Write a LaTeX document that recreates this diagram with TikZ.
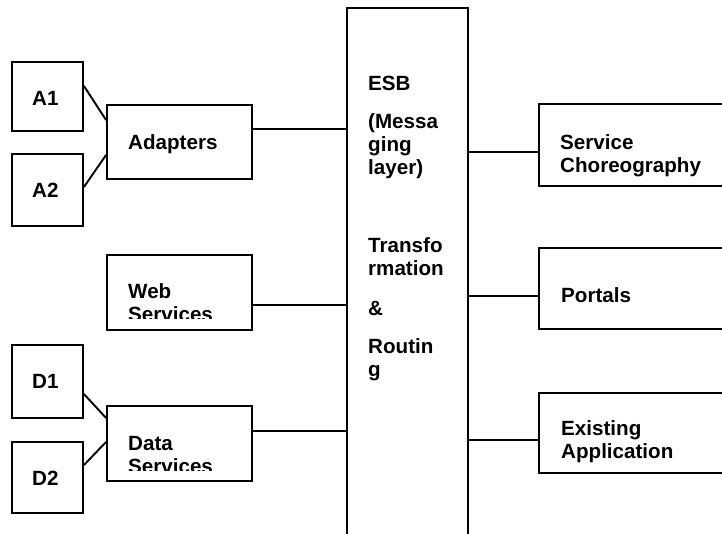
\documentclass[tikz,border=0pt]{standalone}
\usepackage{fontspec}
\setmainfont{Liberation Sans}
\tikzset{box/.style = {draw, line width=1.9pt, inner sep=0pt}}
\tikzset{lbl/.style = {anchor=base west, inner sep=0pt, align=left, font=\bfseries\fontsize{20.6}{23}\selectfont}}
\tikzset{link/.style = {line width=1.9pt}}

\begin{document}
\begin{tikzpicture}[x=1pt, y=-1pt]
    \useasboundingbox (0, 0) rectangle (722, 533);
    \clip (0, 0) rectangle (722, 533);

    % left column (multi-line labels sit on their last line)
    \node [box, minimum width=71, minimum height=69] (A1) at (47.5, 96.5) {};
    \node [box, minimum width=71, minimum height=72] (A2) at (47.5, 190) {};
    \node [box, minimum width=71, minimum height=73] (D1) at (47.5, 381.5) {};
    \node [box, minimum width=71, minimum height=71] (D2) at (47.5, 477.5) {};
    \node [lbl] (tA1) at (32, 105) {A1};
    \node [lbl] (tA2) at (32, 197) {A2};
    \node [lbl] (tD1) at (32, 388) {D1};
    \node [lbl] (tD2) at (32, 485) {D2};

    \node [box, minimum width=145, minimum height=74] (Adapters) at (179.5, 142) {};
    \node [box, minimum width=145, minimum height=75] (Web) at (179.5, 292.5) {};
    \node [box, minimum width=145, minimum height=75] (Data) at (179.5, 443.5) {};
    \node [lbl] (tAdapters) at (128, 149) {Adapters};
    \begin{scope}
      \clip (107, 255) rectangle (252, 318);
      \node [lbl] (tWeb) at (128, 321) {Web\\Services};
    \end{scope}
    \begin{scope}
      \clip (107, 406) rectangle (252, 470);
      \node [lbl] (tData) at (128, 473) {Data\\Services};
    \end{scope}

    % bus
    \node [box, minimum width=121, minimum height=537] (ESB) at (407.5, 276.5) {};
    \node [lbl] (tESB) at (368, 90) {ESB};
    \node [lbl] (tMsg) at (368, 174) {(Messa\\ging\\layer)};
    \node [lbl] (tTrans) at (368, 275) {Transfo\\rmation};
    \node [lbl] (tAmp) at (368, 315) {\&};
    \node [lbl] (tRout) at (368, 376) {Routin\\g};

    % right column
    \node [box, minimum width=196, minimum height=82] (SC) at (637, 145) {};
    \node [box, minimum width=196, minimum height=81] (Portals) at (637, 288.5) {};
    \node [box, minimum width=196, minimum height=80] (Existing) at (637, 433) {};
    \node [lbl] (tSC) at (560, 172) {Service\\Choreography};
    \node [lbl] (tPortals) at (561, 302) {Portals};
    \node [lbl] (tExisting) at (561, 458) {Existing\\Application};

    % links
    \draw [link] ([yshift=10.5]A1.east) -- ([yshift=22]Adapters.west);
    \draw [link] ([yshift=3]A2.east) -- ([yshift=-13]Adapters.west);
    \draw [link] ([yshift=-12.5]D1.east) -- ([yshift=25.5]Data.west);
    \draw [link] ([yshift=12.5]D2.east) -- ([yshift=1.5]Data.west);

    \draw [link] ([yshift=13]Adapters.east) coordinate (adp) -- (adp -| ESB.west);
    \draw [link] ([yshift=-12.5]Web.east) coordinate (web) -- (web -| ESB.west);
    \draw [link] ([yshift=12.5]Data.east) coordinate (dat) -- (dat -| ESB.west);

    \draw [link] ([yshift=-7]SC.west) coordinate (scw) -- (scw -| ESB.east);
    \draw [link] ([yshift=-7.5]Portals.west) coordinate (por) -- (por -| ESB.east);
    \draw [link] ([yshift=-7]Existing.west) coordinate (exi) -- (exi -| ESB.east);
  \end{tikzpicture}
\end{document}
